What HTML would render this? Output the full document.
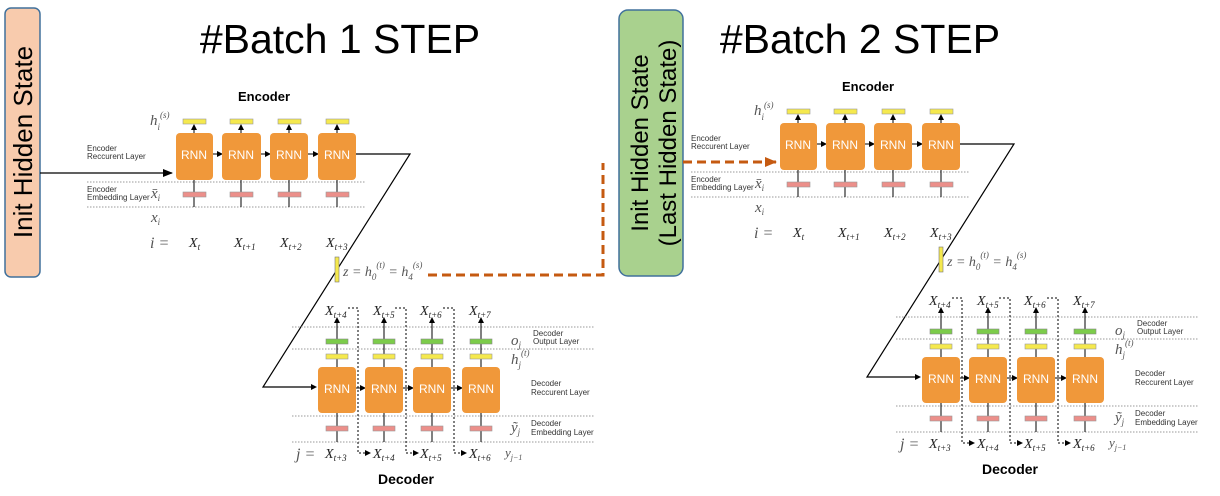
<!DOCTYPE html>
<html><head><meta charset="utf-8"><style>
html,body{margin:0;padding:0;background:#fff;}
svg{display:block;}
.t{font-family:"Liberation Sans",sans-serif;}
.m{font-family:"Liberation Serif",serif;font-style:italic;fill:#555;}
.s{font-family:"Liberation Sans",sans-serif;font-size:8px;fill:#333;}
.rn{fill:#f0983a;}
.rt{font-family:"Liberation Sans",sans-serif;font-size:12px;fill:#fff;text-anchor:middle;}
</style></head><body>
<svg width="1220" height="496" viewBox="0 0 1220 496" xmlns="http://www.w3.org/2000/svg">
<defs>
<marker id="a" markerWidth="6" markerHeight="6" refX="5" refY="3" orient="auto" markerUnits="userSpaceOnUse"><path d="M0,0 L6,3 L0,6z" fill="#000"/></marker>
<marker id="ab" markerWidth="10" markerHeight="10" refX="9" refY="5" orient="auto" markerUnits="userSpaceOnUse"><path d="M0,1 L10,5 L0,9z" fill="#000"/></marker>
<marker id="ao" markerWidth="12" markerHeight="12" refX="11" refY="6" orient="auto" markerUnits="userSpaceOnUse"><path d="M0,1 L12,6 L0,11z" fill="#c55a11"/></marker>
</defs>

<!-- Left init box -->
<rect x="5" y="8" width="35" height="269" rx="6" fill="#f8cbad" stroke="#41719c" stroke-width="1.5"/>
<text class="t" font-size="26" transform="translate(32,142) rotate(-90)" text-anchor="middle">Init Hidden State</text>
<line x1="40" y1="173" x2="172" y2="173" stroke="#000" stroke-width="1.2" marker-end="url(#ab)"/>

<text class="t" x="340" y="53" font-size="41" text-anchor="middle">#Batch 1 STEP</text>
<text class="t" x="860" y="53" font-size="41" text-anchor="middle">#Batch 2 STEP</text>

<!-- middle green box -->
<rect x="619" y="10" width="64" height="266" rx="9" fill="#a9d18e" stroke="#41719c" stroke-width="1.5"/>
<text class="t" font-size="24" transform="translate(648,143) rotate(-90)" text-anchor="middle">Init Hidden State</text>
<text class="t" font-size="24" transform="translate(676,143) rotate(-90)" text-anchor="middle">(Last Hidden State)</text>

<!-- orange dashed -->
<polyline points="428,275 603,275 603,163" fill="none" stroke="#c55a11" stroke-width="3" stroke-dasharray="9,5"/>
<line x1="683" y1="162" x2="776" y2="162" stroke="#c55a11" stroke-width="3" stroke-dasharray="9,5" marker-end="url(#ao)"/>

<!-- Batch groups -->
<g id="b1">
<text class="t" x="264" y="101" font-size="13" font-weight="bold" text-anchor="middle">Encoder</text>
<text class="m" x="150" y="125" font-size="15">h<tspan font-size="9" dy="5">i</tspan><tspan font-size="9" dy="-12">(s)</tspan></text>
<text class="s" x="87" y="151">Encoder</text><text class="s" x="87" y="159">Reccurent Layer</text>
<text class="s" x="87" y="192">Encoder</text><text class="s" x="87" y="200">Embedding Layer</text>
<line x1="87" y1="182" x2="366" y2="182" stroke="#999" stroke-dasharray="1.5,1.5"/>
<line x1="87" y1="207" x2="366" y2="207" stroke="#999" stroke-dasharray="1.5,1.5"/>
<text class="m" x="151" y="198" font-size="15">x̄<tspan font-size="9" dy="3">i</tspan></text>
<text class="m" x="151" y="222" font-size="15">x<tspan font-size="9" dy="3">i</tspan></text>
<text class="m" x="150" y="248" font-size="16">i =</text>
<g class="m" font-size="14" fill="#222" style="fill:#222">
<text x="189" y="247">X<tspan font-size="9" dy="3">t</tspan></text>
<text x="234" y="247">X<tspan font-size="9" dy="3">t+1</tspan></text>
<text x="280" y="247">X<tspan font-size="9" dy="3">t+2</tspan></text>
<text x="326" y="247">X<tspan font-size="9" dy="3">t+3</tspan></text>
</g>
<g stroke="#000" stroke-width="1">
<line x1="194" y1="207" x2="194" y2="134" marker-end="url(#a)"/>
<line x1="241" y1="207" x2="241" y2="134" marker-end="url(#a)"/>
<line x1="289" y1="207" x2="289" y2="134" marker-end="url(#a)"/>
<line x1="337" y1="207" x2="337" y2="134" marker-end="url(#a)"/>
<line x1="194" y1="133" x2="194" y2="125" marker-end="url(#a)"/>
<line x1="241" y1="133" x2="241" y2="125" marker-end="url(#a)"/>
<line x1="289" y1="133" x2="289" y2="125" marker-end="url(#a)"/>
<line x1="337" y1="133" x2="337" y2="125" marker-end="url(#a)"/>
<line x1="213" y1="154" x2="222" y2="154" marker-end="url(#a)"/>
<line x1="261" y1="154" x2="270" y2="154" marker-end="url(#a)"/>
<line x1="308" y1="154" x2="318" y2="154" marker-end="url(#a)"/>
</g>
<g fill="#f5e94e" stroke="#999" stroke-width="0.6">
<rect x="183" y="119" width="23" height="5"/><rect x="230" y="119" width="23" height="5"/><rect x="278" y="119" width="23" height="5"/><rect x="326" y="119" width="23" height="5"/>
</g>
<g fill="#ec8f8a" stroke="#999" stroke-width="0.6">
<rect x="183" y="192" width="23" height="5"/><rect x="230" y="192" width="23" height="5"/><rect x="278" y="192" width="23" height="5"/><rect x="326" y="192" width="23" height="5"/>
</g>
<rect class="rn" x="176" y="133" width="37" height="47" rx="4"/><rect class="rn" x="222" y="133" width="39" height="47" rx="4"/><rect class="rn" x="270" y="133" width="38" height="47" rx="4"/><rect class="rn" x="318" y="133" width="38" height="47" rx="4"/>
<text class="rt" x="194" y="159">RNN</text><text class="rt" x="241" y="159">RNN</text><text class="rt" x="289" y="159">RNN</text><text class="rt" x="337" y="159">RNN</text>
<!-- connector -->
<polyline points="356,154 410,154 263,387 315,387" fill="none" stroke="#000" stroke-width="1.2"/>
<line x1="300" y1="387" x2="316" y2="387" stroke="#000" marker-end="url(#a)"/>
<rect x="335" y="257" width="4" height="25" fill="#f5e94e" stroke="#777" stroke-width="0.6"/>
<text class="m" x="343" y="276" font-size="14">z = h<tspan font-size="9" dy="4">0</tspan><tspan font-size="9" dy="-12">(t)</tspan><tspan dy="8"> = h</tspan><tspan font-size="9" dy="4">4</tspan><tspan font-size="9" dy="-12">(s)</tspan></text>
<!-- decoder -->
<line x1="292" y1="327" x2="594" y2="327" stroke="#999" stroke-dasharray="1.5,1.5"/>
<line x1="292" y1="349" x2="594" y2="349" stroke="#999" stroke-dasharray="1.5,1.5"/>
<line x1="292" y1="416" x2="594" y2="416" stroke="#999" stroke-dasharray="1.5,1.5"/>
<line x1="292" y1="442" x2="594" y2="442" stroke="#999" stroke-dasharray="1.5,1.5"/>
<g stroke="#000" stroke-width="1">
<line x1="337" y1="442" x2="337" y2="368" marker-end="url(#a)"/>
<line x1="384" y1="442" x2="384" y2="368" marker-end="url(#a)"/>
<line x1="432" y1="442" x2="432" y2="368" marker-end="url(#a)"/>
<line x1="481" y1="442" x2="481" y2="368" marker-end="url(#a)"/>
<line x1="337" y1="367" x2="337" y2="318" marker-end="url(#a)"/>
<line x1="384" y1="367" x2="384" y2="318" marker-end="url(#a)"/>
<line x1="432" y1="367" x2="432" y2="318" marker-end="url(#a)"/>
<line x1="481" y1="367" x2="481" y2="318" marker-end="url(#a)"/>
<line x1="356" y1="388" x2="365" y2="388" marker-end="url(#a)"/>
<line x1="403" y1="388" x2="413" y2="388" marker-end="url(#a)"/>
<line x1="451" y1="388" x2="462" y2="388" marker-end="url(#a)"/>
</g>
<g fill="none" stroke="#000" stroke-width="1" stroke-dasharray="2,2">
<polyline points="348,308 358,308 358,453 370,453" marker-end="url(#a)"/>
<polyline points="395,308 406,308 406,453 418,453" marker-end="url(#a)"/>
<polyline points="443,308 454,308 454,453 466,453" marker-end="url(#a)"/>
</g>
<g fill="#7ccc4a" stroke="#888" stroke-width="0.6">
<rect x="326" y="339" width="22" height="5"/><rect x="373" y="339" width="22" height="5"/><rect x="421" y="339" width="22" height="5"/><rect x="470" y="339" width="22" height="5"/>
</g>
<g fill="#f5e94e" stroke="#999" stroke-width="0.6">
<rect x="326" y="354" width="22" height="5"/><rect x="373" y="354" width="22" height="5"/><rect x="421" y="354" width="22" height="5"/><rect x="470" y="354" width="22" height="5"/>
</g>
<g fill="#ec8f8a" stroke="#999" stroke-width="0.6">
<rect x="326" y="426" width="22" height="5"/><rect x="373" y="426" width="22" height="5"/><rect x="421" y="426" width="22" height="5"/><rect x="470" y="426" width="22" height="5"/>
</g>
<rect class="rn" x="318" y="367" width="38" height="46" rx="4"/><rect class="rn" x="365" y="367" width="38" height="46" rx="4"/><rect class="rn" x="413" y="367" width="38" height="46" rx="4"/><rect class="rn" x="462" y="367" width="38" height="46" rx="4"/>
<text class="rt" x="337" y="393">RNN</text><text class="rt" x="384" y="393">RNN</text><text class="rt" x="432" y="393">RNN</text><text class="rt" x="481" y="393">RNN</text>
<g class="m" font-size="14" style="fill:#222">
<text x="325" y="315">X<tspan font-size="9" dy="3">t+4</tspan></text>
<text x="373" y="315">X<tspan font-size="9" dy="3">t+5</tspan></text>
<text x="420" y="315">X<tspan font-size="9" dy="3">t+6</tspan></text>
<text x="469" y="315">X<tspan font-size="9" dy="3">t+7</tspan></text>
<text x="325" y="458">X<tspan font-size="9" dy="3">t+3</tspan></text>
<text x="373" y="458">X<tspan font-size="9" dy="3">t+4</tspan></text>
<text x="420" y="458">X<tspan font-size="9" dy="3">t+5</tspan></text>
<text x="469" y="458">X<tspan font-size="9" dy="3">t+6</tspan></text>
</g>
<text class="m" x="296" y="459" font-size="16">j =</text>
<text class="m" x="505" y="457" font-size="13">y<tspan font-size="8" dy="3">j−1</tspan></text>
<text class="m" x="511" y="345" font-size="15">o<tspan font-size="9" dy="3">j</tspan></text>
<text class="m" x="511" y="364" font-size="15">h<tspan font-size="9" dy="4">j</tspan><tspan font-size="9" dy="-12">(t)</tspan></text>
<text class="m" x="511" y="432" font-size="15">ỹ<tspan font-size="9" dy="3">j</tspan></text>
<text class="s" x="533" y="336">Decoder</text><text class="s" x="533" y="344">Output Layer</text>
<text class="s" x="531" y="386">Decoder</text><text class="s" x="531" y="395">Reccurent Layer</text>
<text class="s" x="531" y="426">Decoder</text><text class="s" x="531" y="435">Embedding Layer</text>
<text class="t" x="406" y="484" font-size="14" font-weight="bold" text-anchor="middle">Decoder</text>
</g>

<g transform="translate(604,-10)">
<text class="t" x="264" y="101" font-size="13" font-weight="bold" text-anchor="middle">Encoder</text>
<text class="m" x="150" y="125" font-size="15">h<tspan font-size="9" dy="5">i</tspan><tspan font-size="9" dy="-12">(s)</tspan></text>
<text class="s" x="87" y="151">Encoder</text><text class="s" x="87" y="159">Reccurent Layer</text>
<text class="s" x="87" y="192">Encoder</text><text class="s" x="87" y="200">Embedding Layer</text>
<line x1="87" y1="182" x2="366" y2="182" stroke="#999" stroke-dasharray="1.5,1.5"/>
<line x1="87" y1="207" x2="366" y2="207" stroke="#999" stroke-dasharray="1.5,1.5"/>
<text class="m" x="151" y="198" font-size="15">x̄<tspan font-size="9" dy="3">i</tspan></text>
<text class="m" x="151" y="222" font-size="15">x<tspan font-size="9" dy="3">i</tspan></text>
<text class="m" x="150" y="248" font-size="16">i =</text>
<g class="m" font-size="14" style="fill:#222">
<text x="189" y="247">X<tspan font-size="9" dy="3">t</tspan></text>
<text x="234" y="247">X<tspan font-size="9" dy="3">t+1</tspan></text>
<text x="280" y="247">X<tspan font-size="9" dy="3">t+2</tspan></text>
<text x="326" y="247">X<tspan font-size="9" dy="3">t+3</tspan></text>
</g>
<g stroke="#000" stroke-width="1">
<line x1="194" y1="207" x2="194" y2="134" marker-end="url(#a)"/>
<line x1="241" y1="207" x2="241" y2="134" marker-end="url(#a)"/>
<line x1="289" y1="207" x2="289" y2="134" marker-end="url(#a)"/>
<line x1="337" y1="207" x2="337" y2="134" marker-end="url(#a)"/>
<line x1="194" y1="133" x2="194" y2="125" marker-end="url(#a)"/>
<line x1="241" y1="133" x2="241" y2="125" marker-end="url(#a)"/>
<line x1="289" y1="133" x2="289" y2="125" marker-end="url(#a)"/>
<line x1="337" y1="133" x2="337" y2="125" marker-end="url(#a)"/>
<line x1="213" y1="154" x2="222" y2="154" marker-end="url(#a)"/>
<line x1="261" y1="154" x2="270" y2="154" marker-end="url(#a)"/>
<line x1="308" y1="154" x2="318" y2="154" marker-end="url(#a)"/>
</g>
<g fill="#f5e94e" stroke="#999" stroke-width="0.6">
<rect x="183" y="119" width="23" height="5"/><rect x="230" y="119" width="23" height="5"/><rect x="278" y="119" width="23" height="5"/><rect x="326" y="119" width="23" height="5"/>
</g>
<g fill="#ec8f8a" stroke="#999" stroke-width="0.6">
<rect x="183" y="192" width="23" height="5"/><rect x="230" y="192" width="23" height="5"/><rect x="278" y="192" width="23" height="5"/><rect x="326" y="192" width="23" height="5"/>
</g>
<rect class="rn" x="176" y="133" width="37" height="47" rx="4"/><rect class="rn" x="222" y="133" width="39" height="47" rx="4"/><rect class="rn" x="270" y="133" width="38" height="47" rx="4"/><rect class="rn" x="318" y="133" width="38" height="47" rx="4"/>
<text class="rt" x="194" y="159">RNN</text><text class="rt" x="241" y="159">RNN</text><text class="rt" x="289" y="159">RNN</text><text class="rt" x="337" y="159">RNN</text>
<polyline points="356,154 410,154 263,387 315,387" fill="none" stroke="#000" stroke-width="1.2"/>
<line x1="300" y1="387" x2="316" y2="387" stroke="#000" marker-end="url(#a)"/>
<rect x="335" y="257" width="4" height="25" fill="#f5e94e" stroke="#777" stroke-width="0.6"/>
<text class="m" x="343" y="276" font-size="14">z = h<tspan font-size="9" dy="4">0</tspan><tspan font-size="9" dy="-12">(t)</tspan><tspan dy="8"> = h</tspan><tspan font-size="9" dy="4">4</tspan><tspan font-size="9" dy="-12">(s)</tspan></text>
<line x1="292" y1="327" x2="594" y2="327" stroke="#999" stroke-dasharray="1.5,1.5"/>
<line x1="292" y1="349" x2="594" y2="349" stroke="#999" stroke-dasharray="1.5,1.5"/>
<line x1="292" y1="416" x2="594" y2="416" stroke="#999" stroke-dasharray="1.5,1.5"/>
<line x1="292" y1="442" x2="594" y2="442" stroke="#999" stroke-dasharray="1.5,1.5"/>
<g stroke="#000" stroke-width="1">
<line x1="337" y1="442" x2="337" y2="368" marker-end="url(#a)"/>
<line x1="384" y1="442" x2="384" y2="368" marker-end="url(#a)"/>
<line x1="432" y1="442" x2="432" y2="368" marker-end="url(#a)"/>
<line x1="481" y1="442" x2="481" y2="368" marker-end="url(#a)"/>
<line x1="337" y1="367" x2="337" y2="318" marker-end="url(#a)"/>
<line x1="384" y1="367" x2="384" y2="318" marker-end="url(#a)"/>
<line x1="432" y1="367" x2="432" y2="318" marker-end="url(#a)"/>
<line x1="481" y1="367" x2="481" y2="318" marker-end="url(#a)"/>
<line x1="356" y1="388" x2="365" y2="388" marker-end="url(#a)"/>
<line x1="403" y1="388" x2="413" y2="388" marker-end="url(#a)"/>
<line x1="451" y1="388" x2="462" y2="388" marker-end="url(#a)"/>
</g>
<g fill="none" stroke="#000" stroke-width="1" stroke-dasharray="2,2">
<polyline points="348,308 358,308 358,453 370,453" marker-end="url(#a)"/>
<polyline points="395,308 406,308 406,453 418,453" marker-end="url(#a)"/>
<polyline points="443,308 454,308 454,453 466,453" marker-end="url(#a)"/>
</g>
<g fill="#7ccc4a" stroke="#888" stroke-width="0.6">
<rect x="326" y="339" width="22" height="5"/><rect x="373" y="339" width="22" height="5"/><rect x="421" y="339" width="22" height="5"/><rect x="470" y="339" width="22" height="5"/>
</g>
<g fill="#f5e94e" stroke="#999" stroke-width="0.6">
<rect x="326" y="354" width="22" height="5"/><rect x="373" y="354" width="22" height="5"/><rect x="421" y="354" width="22" height="5"/><rect x="470" y="354" width="22" height="5"/>
</g>
<g fill="#ec8f8a" stroke="#999" stroke-width="0.6">
<rect x="326" y="426" width="22" height="5"/><rect x="373" y="426" width="22" height="5"/><rect x="421" y="426" width="22" height="5"/><rect x="470" y="426" width="22" height="5"/>
</g>
<rect class="rn" x="318" y="367" width="38" height="46" rx="4"/><rect class="rn" x="365" y="367" width="38" height="46" rx="4"/><rect class="rn" x="413" y="367" width="38" height="46" rx="4"/><rect class="rn" x="462" y="367" width="38" height="46" rx="4"/>
<text class="rt" x="337" y="393">RNN</text><text class="rt" x="384" y="393">RNN</text><text class="rt" x="432" y="393">RNN</text><text class="rt" x="481" y="393">RNN</text>
<g class="m" font-size="14" style="fill:#222">
<text x="325" y="315">X<tspan font-size="9" dy="3">t+4</tspan></text>
<text x="373" y="315">X<tspan font-size="9" dy="3">t+5</tspan></text>
<text x="420" y="315">X<tspan font-size="9" dy="3">t+6</tspan></text>
<text x="469" y="315">X<tspan font-size="9" dy="3">t+7</tspan></text>
<text x="325" y="458">X<tspan font-size="9" dy="3">t+3</tspan></text>
<text x="373" y="458">X<tspan font-size="9" dy="3">t+4</tspan></text>
<text x="420" y="458">X<tspan font-size="9" dy="3">t+5</tspan></text>
<text x="469" y="458">X<tspan font-size="9" dy="3">t+6</tspan></text>
</g>
<text class="m" x="296" y="459" font-size="16">j =</text>
<text class="m" x="505" y="457" font-size="13">y<tspan font-size="8" dy="3">j−1</tspan></text>
<text class="m" x="511" y="345" font-size="15">o<tspan font-size="9" dy="3">j</tspan></text>
<text class="m" x="511" y="364" font-size="15">h<tspan font-size="9" dy="4">j</tspan><tspan font-size="9" dy="-12">(t)</tspan></text>
<text class="m" x="511" y="432" font-size="15">ỹ<tspan font-size="9" dy="3">j</tspan></text>
<text class="s" x="533" y="336">Decoder</text><text class="s" x="533" y="344">Output Layer</text>
<text class="s" x="531" y="386">Decoder</text><text class="s" x="531" y="395">Reccurent Layer</text>
<text class="s" x="531" y="426">Decoder</text><text class="s" x="531" y="435">Embedding Layer</text>
<text class="t" x="406" y="484" font-size="14" font-weight="bold" text-anchor="middle">Decoder</text>
</g>
</svg>
</body></html>
